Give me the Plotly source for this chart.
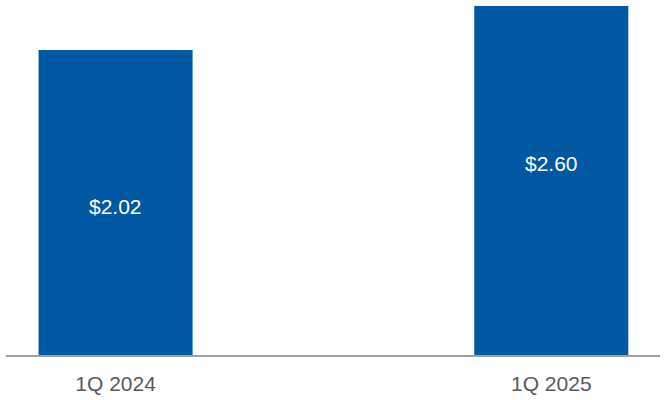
import plotly.graph_objects as go

categories = ["1Q 2024", "1Q 2025"]
values = [2.02, 2.60]
value_labels = ["$2.02", "$2.60"]

# layout constants (positions / styles)
Y_BASE = -2.0
Y_TOP = 2.6
LABEL_Y = [-0.04, 0.52]
BAR_COLOR = "#0059A2"

fig = go.Figure()
fig.add_trace(go.Bar(
    x=categories,
    y=[v - Y_BASE for v in values],
    base=Y_BASE,
    width=0.3535,
    marker=dict(color=BAR_COLOR, line=dict(width=0)),
    hoverinfo="skip",
))

for c, lab, ly in zip(categories, value_labels, LABEL_Y):
    fig.add_annotation(x=c, y=ly, text=lab, showarrow=False,
                       font=dict(family="Liberation Sans, Arial", size=21, color="white"),
                       xanchor="center", yanchor="middle")

fig.update_layout(
    width=666, height=400,
    margin=dict(l=6, r=6, t=6, b=45),
    paper_bgcolor="white", plot_bgcolor="white",
    showlegend=False,
    xaxis=dict(
        type="category",
        range=[-0.2515, 1.2495],
        automargin=False,
        showgrid=False, zeroline=False,
        showline=True, linecolor="#A0A0A0", linewidth=2,
        ticks="", ticklabelstandoff=9,
        tickfont=dict(family="Liberation Sans, Arial", size=21, color="#595959"),
    ),
    yaxis=dict(
        range=[Y_BASE, Y_TOP],
        automargin=False,
        visible=False, showgrid=False, zeroline=False,
    ),
)

fig.write_html("out.html", config={"displayModeBar": False, "staticPlot": True},
               post_script="document.body.style.margin='0';document.body.style.overflow='hidden';")
